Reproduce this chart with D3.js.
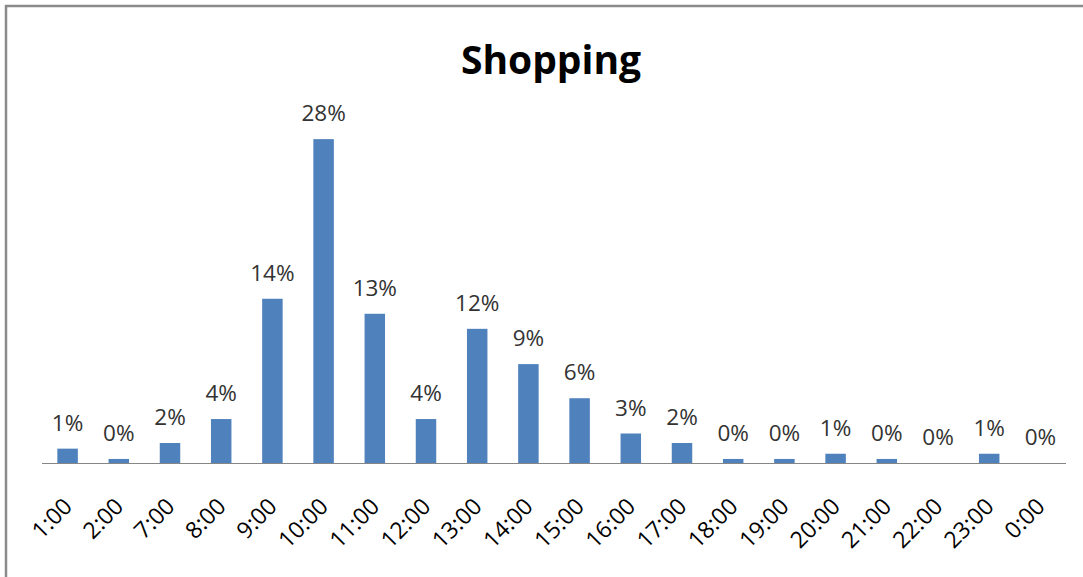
<!DOCTYPE html>
<html>
<head>
<meta charset="utf-8">
<script src="https://cdn.jsdelivr.net/npm/d3@7"></script>
<style>
  html, body { margin: 0; padding: 0; background: #fff; }
  svg { display: block; }
</style>
</head>
<body>
<svg id="chart" width="1083" height="577"></svg>
<script>
// Share of shopping trips by hour of departure
const hours = ["1:00", "2:00", "7:00", "8:00", "9:00", "10:00", "11:00", "12:00",
  "13:00", "14:00", "15:00", "16:00", "17:00", "18:00", "19:00", "20:00",
  "21:00", "22:00", "23:00", "0:00"];
const shares = [0.0124, 0.0035, 0.0173, 0.038, 0.142, 0.280, 0.129, 0.038,
  0.116, 0.0855, 0.056, 0.0255, 0.0173, 0.0035, 0.0035, 0.008,
  0.0035, 0, 0.008, 0];
const chartTitle = "Shopping";

const W = 1083, H = 577;
const plot = { left: 42, right: 1066, top: 116, bottom: 463 };

const svg = d3.select("#chart");

// outer frame (only left and top edges fall inside the canvas)
svg.append("rect")
  .attr("x", 6).attr("y", 6)
  .attr("width", W + 20).attr("height", H + 20)
  .attr("fill", "#fff")
  .attr("stroke", "#8a8a8a")
  .attr("stroke-width", 2.5);

const x = d3.scaleBand()
  .domain(hours)
  .range([plot.left, plot.right])
  .paddingInner(0.6)
  .paddingOuter(0.3);

const y = d3.scaleLinear()
  .domain([0, 0.30])
  .range([plot.bottom, plot.top]);

// title
svg.append("text")
  .attr("x", 551)
  .attr("y", 74)
  .attr("text-anchor", "middle")
  .attr("font-family", "'Open Sans', sans-serif")
  .attr("font-weight", 700)
  .attr("font-size", 39)
  .attr("fill", "#000")
  .text(chartTitle);

const data = hours.map((h, i) => ({ hour: h, value: shares[i] }));

// bars
svg.append("g")
  .selectAll("rect")
  .data(data)
  .join("rect")
  .attr("x", d => x(d.hour))
  .attr("y", d => y(d.value))
  .attr("width", x.bandwidth())
  .attr("height", d => y(0) - y(d.value))
  .attr("fill", "#4f81bd");

// value labels
const fmt = d3.format(".0%");
svg.append("g")
  .selectAll("text")
  .data(data)
  .join("text")
  .attr("x", d => x(d.hour) + x.bandwidth() / 2)
  .attr("y", d => y(d.value) - 18)
  .attr("text-anchor", "middle")
  .attr("font-family", "'Open Sans', sans-serif")
  .attr("font-size", 22.5)
  .attr("fill", "#333")
  .text(d => fmt(d.value));

// category axis
const xAxis = d3.axisBottom(x).tickSize(0).tickPadding(0);
const gx = svg.append("g")
  .attr("transform", `translate(0,${plot.bottom})`)
  .call(xAxis);
gx.select(".domain")
  .attr("stroke", "#868686")
  .attr("stroke-width", 1.2)
  .attr("d", `M${plot.left},0.5H${plot.right}`);
gx.selectAll(".tick text")
  .attr("font-family", "'Open Sans', sans-serif")
  .attr("font-size", 23)
  .attr("fill", "#000")
  .attr("text-anchor", "end")
  .attr("dy", null)
  .attr("y", null)
  .attr("transform", "translate(6,45) rotate(-45)");
</script>
</body>
</html>
